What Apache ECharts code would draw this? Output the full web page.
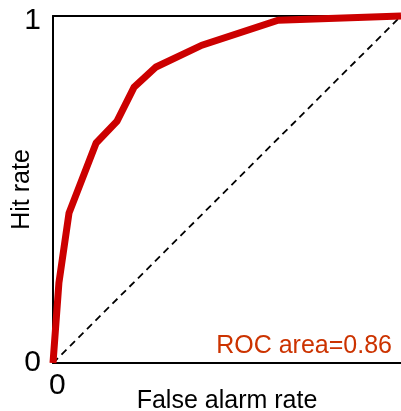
<!DOCTYPE html>
<html>
<head>
<meta charset="utf-8">
<script src="https://cdn.jsdelivr.net/npm/echarts@6/dist/echarts.min.js"></script>
<style>html,body{margin:0;padding:0;background:#fff}#c{width:401px;height:411px}</style>
</head>
<body>
<div id="c"></div>
<script>
var falseAlarm = [0, 0.017, 0.046, 0.124, 0.184, 0.233, 0.296, 0.428, 0.647, 1];
var hitRate    = [0, 0.231, 0.432, 0.634, 0.697, 0.795, 0.853, 0.916, 0.988, 1];
var chanceX = [0, 1];
var chanceY = [0, 1];
var rocArea = 0.86;
var xTickLabels = {0: '0'};
var yTickLabels = {0: '0', 1: '1'};

var FONT = 'Liberation Sans, Arial, sans-serif';
var chart = echarts.init(document.getElementById('c'));
chart.setOption({
  animation: false,
  title: {
    text: 'ROC area=' + rocArea.toFixed(2),
    right: 4, top: 329,
    textStyle: {color: '#cc3300', fontSize: 25, fontWeight: 'normal', fontFamily: FONT}
  },
  grid: {left: 53, right: 0, top: 16, bottom: 48, containLabel: false, outerBoundsMode: 'none'},
  xAxis: [{
    type: 'value', min: 0, max: 1, interval: 1,
    name: 'False alarm rate', nameLocation: 'middle', nameGap: 26, nameMoveOverlap: false,
    nameTextStyle: {color: '#000', fontSize: 25, fontFamily: FONT, verticalAlign: 'top'},
    axisLine: {lineStyle: {color: '#000', width: 2}},
    axisTick: {show: false}, splitLine: {show: false},
    axisLabel: {color: '#000', fontSize: 30, fontFamily: FONT, margin: 8,
      formatter: function (v) { return v === 0 ? xTickLabels[v] : ''; },
      align: 'left', padding: [0, 0, 0, -4]}
  }, {
    type: 'value', min: 0, max: 1, position: 'top',
    axisLine: {show: true, onZero: false, lineStyle: {color: '#000', width: 2}},
    axisTick: {show: false}, axisLabel: {show: false}, splitLine: {show: false}
  }],
  yAxis: {
    type: 'value', min: 0, max: 1, interval: 1,
    name: 'Hit rate', nameLocation: 'middle', nameGap: 18, nameRotate: 90, nameMoveOverlap: false,
    nameTextStyle: {color: '#000', fontSize: 25, fontFamily: FONT},
    axisLine: {show: true, lineStyle: {color: '#000', width: 2}},
    axisTick: {show: false}, splitLine: {show: false},
    axisLabel: {color: '#000', fontSize: 30, fontFamily: FONT, margin: 12,
      formatter: function (v) { return v === 1 ? '{one|' + yTickLabels[v] + '}' : (yTickLabels[v] || ''); },
      rich: {one: {fontSize: 30, fontFamily: FONT, color: '#000', padding: [10, 0, 0, 0]}}}
  },
  series: [{
    type: 'line', data: chanceX.map(function (x, i) { return [x, chanceY[i]]; }),
    symbol: 'none', silent: true,
    lineStyle: {color: '#000', width: 1.8, type: [7, 5]}
  }, {
    type: 'line', data: falseAlarm.map(function (x, i) { return [x, hitRate[i]]; }),
    symbol: 'none', clip: false,
    lineStyle: {color: '#cc0000', width: 7, join: 'miter'}
  }]
});
</script>
</body>
</html>
